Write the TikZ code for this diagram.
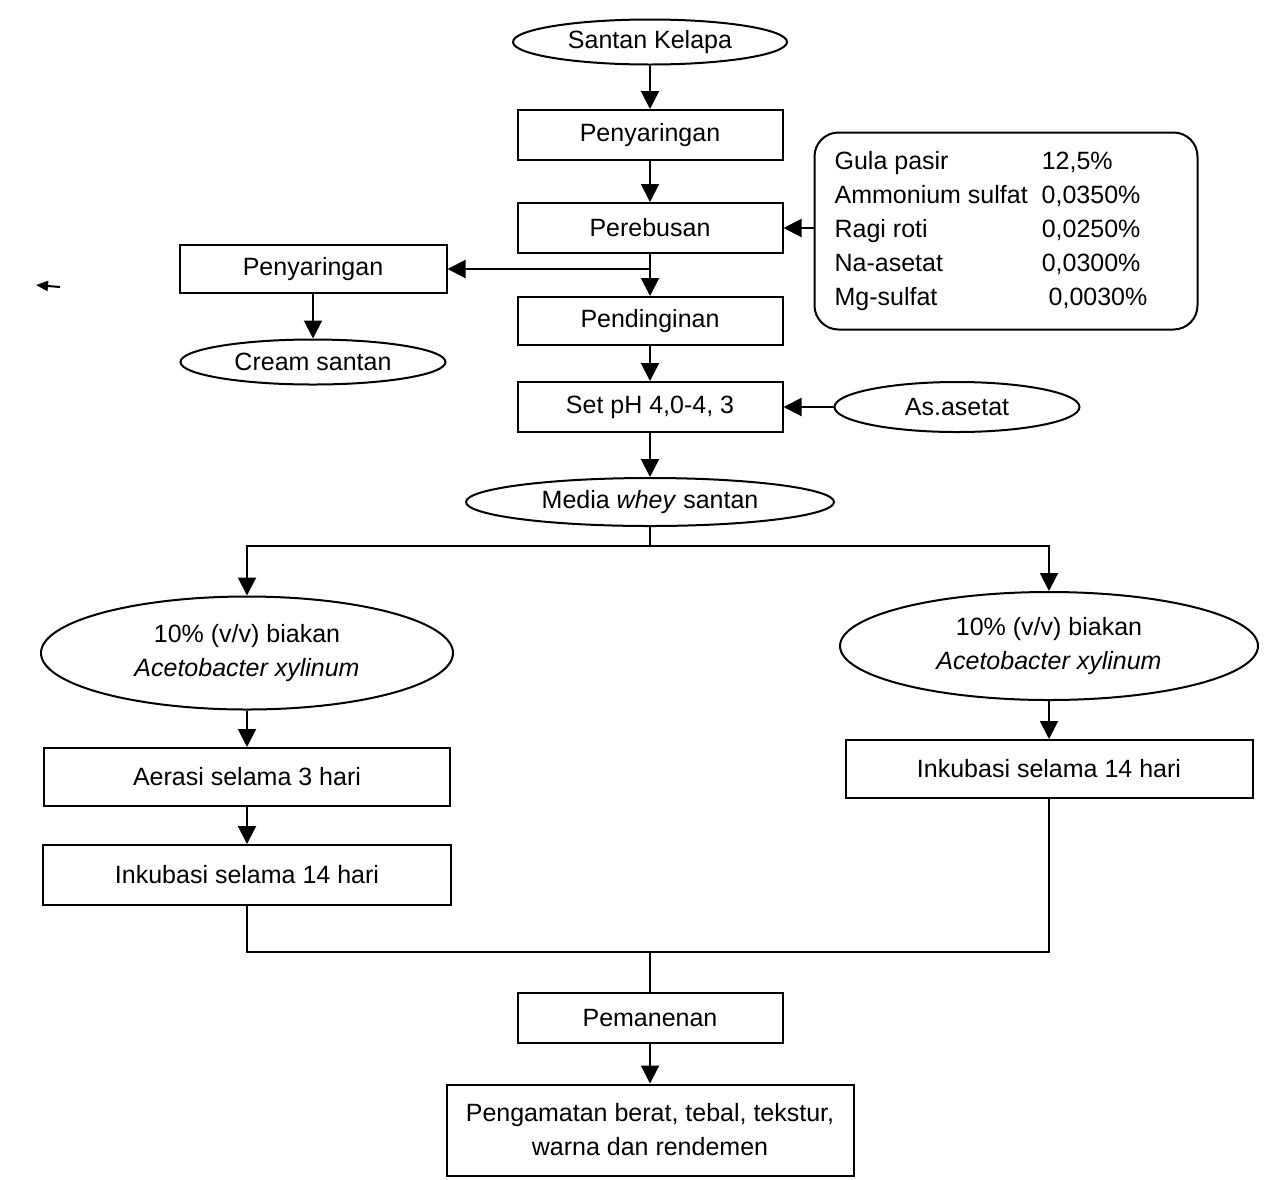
\documentclass[tikz,border=0pt]{standalone}
\usepackage{fontspec}
\setmainfont{Liberation Sans}
\usetikzlibrary{shapes.geometric,arrows.meta,positioning}

\tikzset{
  txt/.style={font=\fontsize{12.5}{17}\selectfont},
  box/.style={txt, draw, line width=1pt, minimum width=132.5pt, minimum height=25pt, inner sep=2pt, align=center},
  oval/.style={txt, draw, ellipse, line width=1pt, inner sep=0pt, align=center},
  arr/.style={line width=1pt, -{Triangle[width=9pt,length=9pt]}},
  wire/.style={line width=1pt},
}

\begin{document}
\begin{tikzpicture}[x=0.5pt,y=-0.5pt]
    \useasboundingbox (0,0) rectangle (1268,1179);

    % main line
    \node[oval, minimum width=137pt, minimum height=22.5pt] (kelapa) at (650,42) {Santan Kelapa};
    \node[box] (saring) at (650,135) {Penyaringan};
    \node[box] (rebus) at (650,228) {Perebusan};
    \node[box, minimum height=24pt] (dingin) at (650,321) {Pendinginan};
    \node[box] (ph) at (650,407) {Set pH 4,0-4, 3};
    \node[oval, minimum width=184pt, minimum height=24pt] (whey) at (650,502) {Media \textit{whey} santan};

    % side branches
    \node[box, minimum width=133.5pt, minimum height=24pt] (saringB) at (313,269) {Penyaringan};
    \node[oval, minimum width=132.5pt, minimum height=22.5pt] (cream) at (313,362) {Cream santan};
    \node[oval, minimum width=122.5pt, minimum height=25pt] (asetat) at (957,407) {As.asetat};
    \node[txt, draw, line width=1pt, rounded corners=12pt, minimum width=191.5pt, minimum height=98.5pt] (bahan) at (1006,231)
        {\begin{tabular}{@{}l@{\hspace{7pt}}l@{}}
            Gula pasir & 12,5\% \\
            Ammonium sulfat & 0,0350\% \\
            Ragi roti & 0,0250\% \\
            Na-asetat & 0,0300\% \\
            Mg-sulfat & \ 0,0030\%
         \end{tabular}\kern15pt\mbox{}};

    % two treatments
    \node[oval, minimum width=206pt, minimum height=56.5pt] (biakanL) at (247,653) {10\% (v/v) biakan\\\textit{Acetobacter xylinum}};
    \node[oval, minimum width=209pt, minimum height=54pt] (biakanR) at (1049,646) {10\% (v/v) biakan\\\textit{Acetobacter xylinum}};
    \node[box, minimum width=203pt, minimum height=29pt] (aerasi) at (247,777) {Aerasi selama 3 hari};
    \node[box, minimum width=204pt, minimum height=30pt] (inkubL) at (247,875) {Inkubasi selama 14 hari};
    \node[box, minimum width=203.5pt, minimum height=29pt] (inkubR) at (1049,769) {Inkubasi selama 14 hari};

    % end
    \node[box] (panen) at (650,1018) {Pemanenan};
    \node[box, minimum width=203.5pt, minimum height=45.5pt] (amati) at (650,1130) {Pengamatan berat, tebal, tekstur,\\warna dan rendemen};

    \coordinate (split) at (650,546);
    \coordinate (merge) at (650,952);
    \coordinate (mark) at (60,287);

    % connectors
    \draw[arr] (kelapa) -- (saring);
    \draw[arr] (saring) -- (rebus);
    \draw[arr] (rebus) -- (dingin);
    \draw[arr] (rebus.south |- saringB.east) -- (saringB.east);
    \draw[arr] (saringB) -- (cream);
    \draw[arr] (bahan.west |- rebus.east) -- (rebus.east);
    \draw[arr] (dingin) -- (ph);
    \draw[arr] (asetat.west) -- (ph.east);
    \draw[arr] (ph) -- (whey);
    \draw[wire] (whey.south) -- (split);
    \draw[arr] (split) -| (biakanL.north);
    \draw[arr] (split) -| (biakanR.north);
    \draw[arr] (biakanL) -- (aerasi);
    \draw[arr] (aerasi) -- (inkubL);
    \draw[arr] (biakanR) -- (inkubR);
    \draw[wire] (inkubL.south) |- (merge) -| (inkubR.south);
    \draw[wire] (merge) -- (panen.north);
    \draw[arr] (panen) -- (amati);
    \draw[line width=1pt, -{Triangle[width=5pt,length=6pt]}] (mark) -- ++(-24,-2);
\end{tikzpicture}
\end{document}
